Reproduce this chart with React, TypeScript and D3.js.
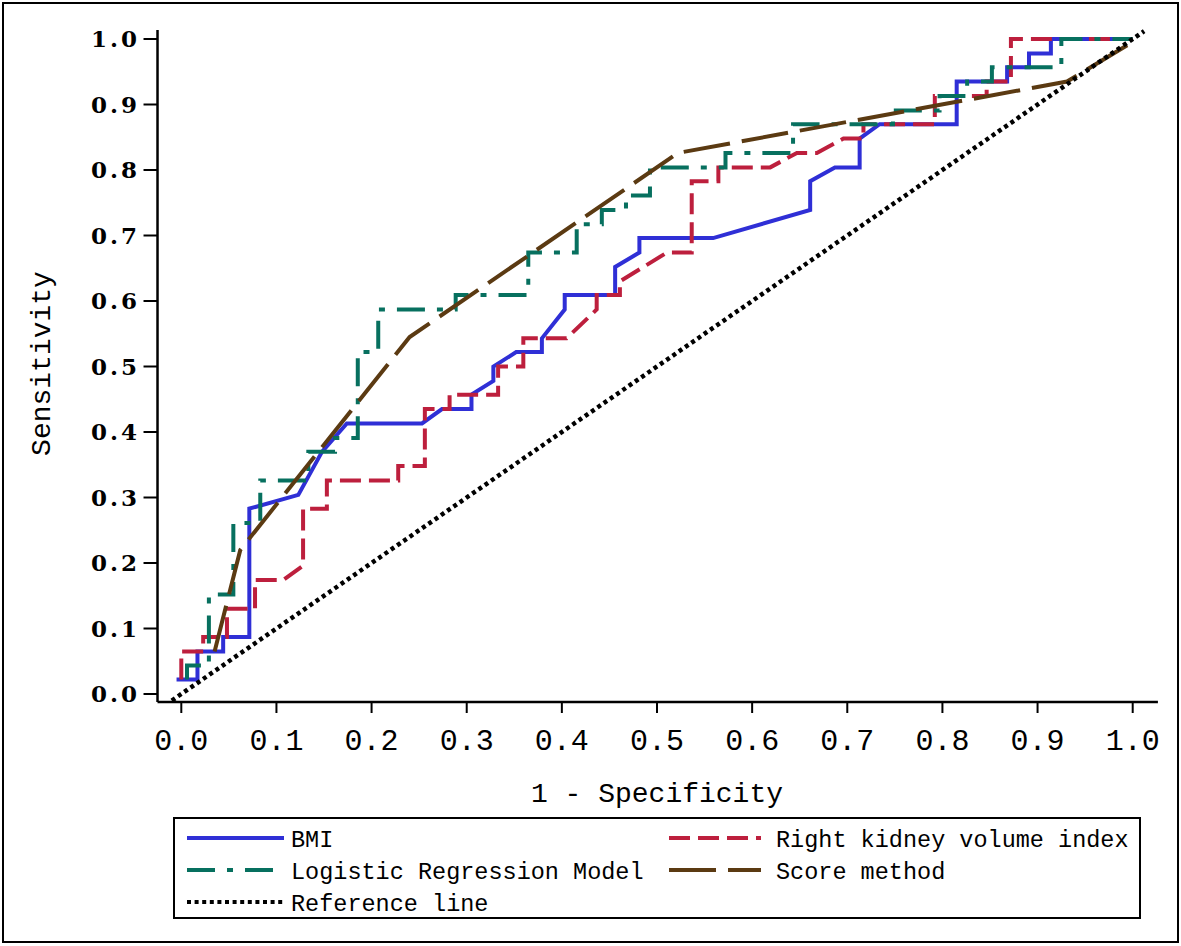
import React from "react";
import * as d3 from "d3";

// ---- data ----
const bmiX = [-0.005, 0.017, 0.017, 0.044, 0.044, 0.0715, 0.0715, 0.123, 0.148, 0.174, 0.253, 0.274, 0.305, 0.305, 0.328, 0.328, 0.352, 0.379, 0.379, 0.403, 0.403, 0.456, 0.456, 0.4815, 0.4815, 0.559, 0.661, 0.661, 0.687, 0.713, 0.713, 0.734, 0.815, 0.815, 0.868, 0.868, 0.891, 0.891, 0.914, 0.914, 1.0];
const bmiY = [0.022, 0.022, 0.065, 0.065, 0.087, 0.087, 0.283, 0.304, 0.370, 0.413, 0.413, 0.435, 0.435, 0.457, 0.478, 0.500, 0.522, 0.522, 0.543, 0.587, 0.609, 0.609, 0.652, 0.674, 0.696, 0.696, 0.739, 0.783, 0.804, 0.804, 0.848, 0.870, 0.870, 0.935, 0.935, 0.957, 0.957, 0.978, 0.978, 1.0, 1.0];

const rkvX = [0, 0, 0.023, 0.023, 0.048, 0.048, 0.0775, 0.0775, 0.107, 0.128, 0.128, 0.153, 0.153, 0.228, 0.228, 0.256, 0.256, 0.282, 0.282, 0.333, 0.333, 0.3595, 0.3595, 0.405, 0.4366, 0.4366, 0.461, 0.461, 0.5105, 0.5365, 0.5365, 0.5645, 0.5645, 0.619, 0.647, 0.668, 0.696, 0.717, 0.717, 0.792, 0.792, 0.8465, 0.8465, 0.872, 0.872, 1.0];
const rkvY = [0.022, 0.065, 0.065, 0.087, 0.087, 0.130, 0.130, 0.174, 0.174, 0.196, 0.283, 0.283, 0.326, 0.326, 0.348, 0.348, 0.435, 0.435, 0.457, 0.457, 0.500, 0.500, 0.543, 0.543, 0.587, 0.609, 0.609, 0.630, 0.674, 0.674, 0.783, 0.783, 0.804, 0.804, 0.826, 0.826, 0.848, 0.848, 0.870, 0.870, 0.913, 0.913, 0.935, 0.935, 1.0, 1.0];

const lrmX = [0.006, 0.006, 0.029, 0.029, 0.0547, 0.0547, 0.083, 0.083, 0.1335, 0.1335, 0.1616, 0.1616, 0.1855, 0.1855, 0.207, 0.207, 0.2884, 0.2884, 0.3647, 0.3647, 0.4156, 0.4156, 0.442, 0.442, 0.4674, 0.4674, 0.4926, 0.4926, 0.572, 0.572, 0.643, 0.643, 0.748, 0.748, 0.797, 0.797, 0.826, 0.826, 0.852, 0.852, 0.925, 0.925, 1.0];
const lrmY = [0.022, 0.0435, 0.0435, 0.152, 0.152, 0.261, 0.261, 0.326, 0.326, 0.370, 0.370, 0.391, 0.391, 0.522, 0.522, 0.587, 0.587, 0.609, 0.609, 0.674, 0.674, 0.717, 0.717, 0.739, 0.739, 0.761, 0.761, 0.804, 0.804, 0.826, 0.826, 0.870, 0.870, 0.891, 0.891, 0.913, 0.913, 0.935, 0.935, 0.957, 0.957, 1.0, 1.0];

const scoreX = [0.035, 0.062, 0.240, 0.522, 0.931, 1.005];
const scoreY = [0.065, 0.220, 0.545, 0.826, 0.935, 1.0];

const refX = [-0.01, 1.012];
const refY = [-0.01, 1.012];

const xTicks = [0, 0.1, 0.2, 0.3, 0.4, 0.5, 0.6, 0.7, 0.8, 0.9, 1.0];
const yTicks = [0, 0.1, 0.2, 0.3, 0.4, 0.5, 0.6, 0.7, 0.8, 0.9, 1.0];
const xAxisExtent = [-0.025, 1.0265];
const yAxisExtent = [-0.0122, 1.0137];

const xTitle = "1 - Specificity";
const yTitle = "Sensitivity";

type Series = { name: string; xs: number[]; ys: number[]; color: string; width: number; dash: string | null };

const series: Series[] = [
  { name: "BMI", xs: bmiX, ys: bmiY, color: "#2f2fd6", width: 4, dash: null },
  { name: "Right kidney volume index", xs: rkvX, ys: rkvY, color: "#bd1f3d", width: 4, dash: "21 8" },
  { name: "Logistic Regression Model", xs: lrmX, ys: lrmY, color: "#07705f", width: 4, dash: "28 12 6 12" },
  { name: "Score method", xs: scoreX, ys: scoreY, color: "#5b3a12", width: 4, dash: "47 12" },
  { name: "Reference line", xs: refX, ys: refY, color: "#000000", width: 4.5, dash: "4 3.6" },
];

const legendOrder = [
  { idx: 0, col: 0, row: 0 },
  { idx: 1, col: 1, row: 0 },
  { idx: 2, col: 0, row: 1 },
  { idx: 3, col: 1, row: 1 },
  { idx: 4, col: 0, row: 2 },
];

export default function App() {
  const W = 1181, H = 946;
  const x = d3.scaleLinear().domain([0, 1]).range([181.3, 1132.7]);
  const y = d3.scaleLinear().domain([0, 1]).range([694, 39]);
  const line = d3.line<[number, number]>().x((d) => x(d[0])).y((d) => y(d[1]));

  const axisBottomY = y(yAxisExtent[0]);
  const axisLeftX = x(xAxisExtent[0]);

  const mono = "'Liberation Mono', 'DejaVu Sans Mono', monospace";

  const legendLeft = 174, legendTop = 818, legendRight = 1140, legendBottom = 918;
  const colSample = [[187, 284], [669, 761]];
  const colText = [291, 776];
  const rowBase = [847, 879, 911];

  return (
    <svg width={W} height={H} style={{ position: "absolute", left: 0, top: 0, background: "#fff" }}>
      <rect x={0} y={0} width={W} height={H} fill="#fff" />
      <rect x={3} y={3} width={W - 6} height={H - 7} fill="none" stroke="#000" strokeWidth={2} />

      {/* axes */}
      <line x1={axisLeftX} x2={x(xAxisExtent[1])} y1={axisBottomY} y2={axisBottomY} stroke="#000" strokeWidth={2.5} />
      <line x1={axisLeftX} x2={axisLeftX} y1={y(yAxisExtent[1])} y2={axisBottomY} stroke="#000" strokeWidth={2.5} />

      {xTicks.map((t) => (
        <g key={"xt" + t}>
          <line x1={x(t)} x2={x(t)} y1={axisBottomY} y2={axisBottomY + 11} stroke="#000" strokeWidth={2} />
          <text x={x(t)} y={750} textAnchor="middle" fontFamily={mono} fontSize={30} fill="#000">
            {t.toFixed(1)}
          </text>
        </g>
      ))}
      {yTicks.map((t) => (
        <g key={"yt" + t}>
          <line x1={axisLeftX - 14} x2={axisLeftX} y1={y(t)} y2={y(t)} stroke="#000" strokeWidth={2} />
          <text x={140} y={y(t)} dy="0.36em" textAnchor="end" fontFamily="'DejaVu Serif', serif" fontWeight="bold" fontSize={23} letterSpacing={3} fill="#000">
            {t.toFixed(1)}
          </text>
        </g>
      ))}

      <text x={(x(0) + x(1)) / 2} y={802} textAnchor="middle" fontFamily={mono} fontSize={28} fill="#000">
        {xTitle}
      </text>
      <text transform={`translate(50,363.5) rotate(-90)`} textAnchor="middle" fontFamily={mono} fontSize={28} fill="#000">
        {yTitle}
      </text>

      {/* curves */}
      <g fill="none">
        {series.map((s) => (
          <path
            key={s.name}
            d={line(s.xs.map((v, k) => [v, s.ys[k]] as [number, number])) || ""}
            stroke={s.color}
            strokeWidth={s.width}
            strokeDasharray={s.dash || undefined}
            strokeLinejoin="miter"
            strokeLinecap="butt"
          />
        ))}
      </g>

      {/* legend */}
      <rect x={legendLeft} y={legendTop} width={legendRight - legendLeft} height={legendBottom - legendTop} fill="#fff" stroke="#000" strokeWidth={2} />
      {legendOrder.map((o) => {
        const s = series[o.idx];
        const ly = rowBase[o.row] - 9;
        return (
          <g key={"lg" + s.name}>
            <line x1={colSample[o.col][0]} x2={colSample[o.col][1]} y1={ly} y2={ly} stroke={s.color} strokeWidth={4} strokeDasharray={s.dash || undefined} />
            <text x={colText[o.col]} y={rowBase[o.row]} fontFamily={mono} fontSize={23.5} fill="#000">
              {s.name}
            </text>
          </g>
        );
      })}
    </svg>
  );
}
